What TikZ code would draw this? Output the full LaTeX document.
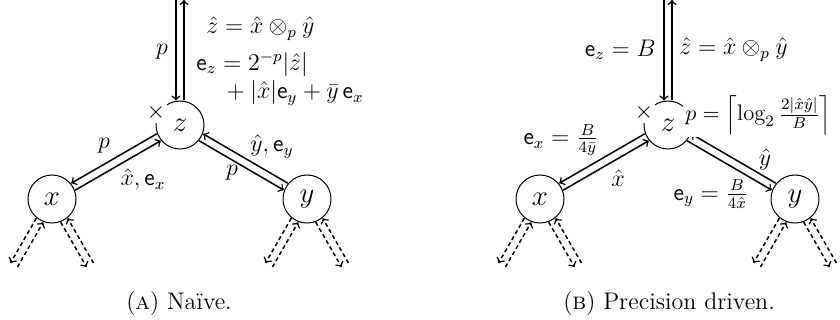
\documentclass[tikz,border=0pt]{standalone}
\usepackage{amsmath}
\usepackage{fontspec}
\usetikzlibrary{calc}
\newcommand{\mytree}[2]{%
  \node[vnode] (z#1) at (#2+180,125) {$z$};
  \node[vnode] (x#1) at (#2+52,199) {$x$};
  \node[vnode] (y#1) at (#2+307,199) {$y$};
  \coordinate (t#1) at (#2+180,0);
  \draw[arr,transform canvas={shift={(-4,0)}}] (t#1) -- (z#1);
  \draw[arr,transform canvas={shift={(4,0)}}] (z#1) -- (t#1);
  \draw[arr,transform canvas={shift={(-2,-3.46)}}] (z#1) -- (x#1);
  \draw[arr,transform canvas={shift={(2,3.46)}}] (x#1) -- (z#1);
  \draw[arr,transform canvas={shift={(-2,3.46)}}] (z#1) -- (y#1);
  \draw[arr,transform canvas={shift={(2,-3.46)}}] (y#1) -- (z#1);
  \foreach \n in {x#1,y#1}{%
    \coordinate (\n l) at ($(\n)+(-38,66)$);
    \coordinate (\n r) at ($(\n)+(38,66)$);
    \draw[darr,transform canvas={shift={(-3.46,-2)}}] (\n) -- (\n l);
    \draw[darr,transform canvas={shift={(3.46,2)}}] (\n l) -- (\n);
    \draw[darr,transform canvas={shift={(-3.46,2)}}] (\n) -- (\n r);
    \draw[darr,transform canvas={shift={(3.46,-2)}}] (\n r) -- (\n);
  }
  \node[lab] (m#1) at (#2+156,113) {$\times$};
}
\begin{document}
\begin{tikzpicture}[x=0.5pt,y=-0.5pt,font=\fontsize{12}{14}\selectfont,
  vnode/.style={circle,draw,line width=0.5pt,minimum size=24pt,inner sep=0pt,font=\fontsize{14}{16}\selectfont},
  arr/.style={->,line width=0.75pt},
  darr/.style={->,line width=0.75pt,dash pattern=on 2pt off 1.5pt},
  lab/.style={fill=white,inner sep=1pt},
  txt/.style={inner sep=1pt}]
\useasboundingbox (0,0) rectangle (840,320);
\mytree{A}{0}
\mytree{B}{488}
% left panel labels
\node[txt] (pA1) at (162,52) {$p$};
\node[txt,anchor=west] (zhA) at (204,29) {$\hat z = \hat x \otimes_p \hat y$};
\node[txt,anchor=west] (ezA) at (194,64) {$\mathsf{e}_z = 2^{-p}|\hat z|$};
\node[txt,anchor=west] (ezA2) at (219,93) {${}+|\hat x|\mathsf{e}_y + \bar y\,\mathsf{e}_x$};
\node[txt] (pA2) at (104,146) {$p$};
\node[txt] (lxA) at (143,180) {$\hat x, \mathsf{e}_x$};
\node[txt] (lyA) at (272,147) {$\hat y, \mathsf{e}_y$};
\node[txt] (pA3) at (232,173) {$p$};
\node (capA) at (179,304) {(\textsc{a}) Naïve.};
% right panel labels
\node[txt,anchor=east] (ezB) at (658,50) {$\mathsf{e}_z = B$};
\node[txt,anchor=west] (zhB) at (677,50) {$\hat z = \hat x \otimes_p \hat y$};
\node[lab,anchor=west,font=\fontsize{11.3}{13}\selectfont] (pB) at (683,115) {$p = \left\lceil \log_2 \frac{2|\hat x \hat y|}{B}\right\rceil$};
\node[txt] (exB) at (561,140) {$\mathsf{e}_x = \frac{B}{4\bar y}$};
\node[txt] (lxB) at (618,178) {$\hat x$};
\node[txt] (lyB) at (765,160) {$\hat y$};
\node[txt] (eyB) at (711,194) {$\mathsf{e}_y = \frac{B}{4\hat x}$};
\node (capB) at (669,304) {(\textsc{b}) Precision driven.};
\end{tikzpicture}
\end{document}
